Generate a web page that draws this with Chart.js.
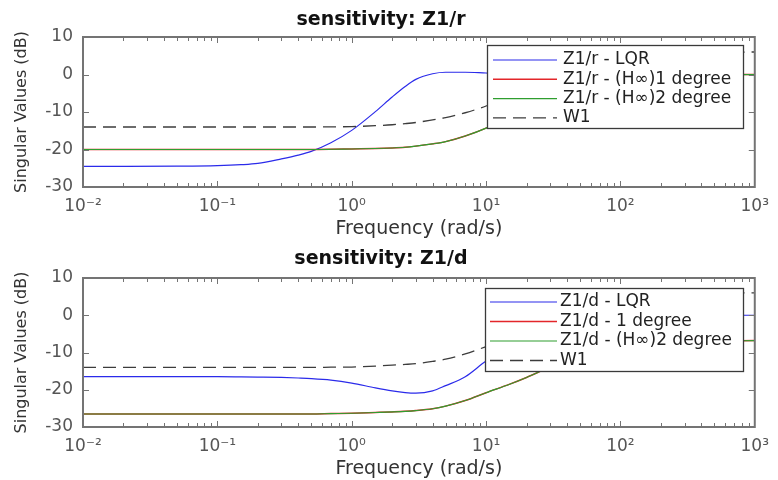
<!DOCTYPE html>
<html>
<head>
<meta charset="utf-8">
<script src="https://cdn.jsdelivr.net/npm/chart.js@4/dist/chart.umd.min.js"></script>
<style>
  html, body { margin: 0; padding: 0; background: #fff; }
  .plot { position: absolute; left: 0; width: 778px; height: 240px; }
</style>
</head>
<body>
<div class="plot" style="top:0"><canvas id="plotR" width="778" height="240"></canvas></div>
<div class="plot" style="top:240px"><canvas id="plotD" width="778" height="240"></canvas></div>
<script>
const freq = [0.01, 0.02, 0.05, 0.1, 0.15, 0.2, 0.3, 0.4, 0.5, 0.7, 1, 1.5, 2, 2.5, 3, 4, 5, 7, 10, 15, 20, 30, 50, 70, 100, 200, 500, 1000];

// sensitivity Z1/r (dB)
const lqrR  = [-24.5, -24.5, -24.45, -24.3, -24.05, -23.7, -22.5, -21.5, -20.5, -18.2, -14.9, -9.9, -6.0, -3.2, -1.3, 0.2, 0.6, 0.6, 0.4, 0.2, 0.1, 0.05, 0, 0, 0, 0, 0, 0];
const deg1R = [-20, -20, -20, -20, -20, -20, -20, -20, -20, -19.95, -19.85, -19.75, -19.6, -19.4, -19.1, -18.5, -17.9, -16.4, -14.3, -11.2, -8.9, -6.0, -3.3, -2.1, -1.2, -0.4, -0.1, 0];
const deg2R = [-20, -20, -20, -20, -20, -20, -20, -20, -20, -19.95, -19.85, -19.75, -19.6, -19.4, -19.1, -18.5, -17.9, -16.4, -14.3, -11.2, -8.9, -6.0, -3.3, -2.1, -1.2, -0.4, -0.1, 0];
const w1R   = [-14, -14, -14, -14, -14, -14, -14, -14, -14, -13.95, -13.9, -13.65, -13.4, -13.1, -12.8, -12.1, -11.5, -10.2, -8.4, -5.8, -3.8, -1.0, 2.0, 3.5, 4.6, 5.6, 5.95, 6.0];

// sensitivity Z1/d (dB)
const lqrD  = [-16.5, -16.5, -16.5, -16.5, -16.55, -16.6, -16.7, -16.85, -17.0, -17.4, -18.2, -19.5, -20.3, -20.75, -20.9, -20.3, -18.9, -16.5, -12.3, -8.5, -6.2, -3.6, -1.6, -0.9, -0.5, -0.1, 0, 0];
const deg1D = [-26.5, -26.5, -26.5, -26.5, -26.5, -26.5, -26.5, -26.5, -26.5, -26.4, -26.3, -26.1, -25.95, -25.8, -25.6, -25.1, -24.4, -22.9, -20.8, -18.5, -16.7, -13.9, -11.0, -9.6, -8.5, -7.3, -6.9, -6.8];
const deg2D = [-26.5, -26.5, -26.5, -26.5, -26.5, -26.5, -26.5, -26.5, -26.5, -26.4, -26.3, -26.1, -25.95, -25.8, -25.6, -25.1, -24.4, -22.9, -20.8, -18.5, -16.7, -13.9, -11.0, -9.6, -8.5, -7.3, -6.9, -6.8];
const w1D   = [-14, -14, -14, -14, -14, -14, -14, -14, -14, -13.95, -13.9, -13.65, -13.4, -13.2, -13.0, -12.4, -11.8, -10.4, -8.4, -5.8, -3.8, -1.0, 2.0, 3.5, 4.6, 5.6, 5.95, 6.0];

// axes
const xTicks = [0.01, 0.1, 1, 10, 100, 1000];
const xTickText = ['10⁻²', '10⁻¹', '10⁰', '10¹', '10²', '10³'];
const yTicks = [-30, -20, -10, 0, 10];

const FONT = '"DejaVu Sans", "Liberation Sans", sans-serif';
const AXIS_COLOR = '#747474';

function pts(values) {
    return freq.map((f, i) => ({ x: f, y: values[i] }));
}

function line(ctx, x0, y0, x1, y1) {
    ctx.beginPath();
    ctx.moveTo(x0, y0);
    ctx.lineTo(x1, y1);
    ctx.stroke();
}

// MATLAB-like box, inward ticks and boxed legend
const matlabAxes = {
    id: 'matlabAxes',
    afterDatasetsDraw(chart, args, opts) {
        const { ctx, chartArea: a, scales: { x, y } } = chart;
        ctx.save();
        ctx.strokeStyle = AXIS_COLOR;
        ctx.lineWidth = 1;
        for (let e = -2; e < 3; e++) {
            for (let m = 1; m < 10; m++) {
                const px = Math.round(x.getPixelForValue(m * Math.pow(10, e))) + 0.5;
                const len = m === 1 ? 6 : 4;
                line(ctx, px, a.bottom, px, a.bottom - len);
                line(ctx, px, a.top, px, a.top + len);
            }
        }
        yTicks.forEach(v => {
            const py = Math.round(y.getPixelForValue(v)) + 0.5;
            line(ctx, a.left, py, a.left + 6, py);
            line(ctx, a.right, py, a.right - 6, py);
        });
        ctx.lineWidth = 2;
        ctx.strokeRect(a.left, a.top, a.right - a.left, a.bottom - a.top);

        // legend
        const L = opts.legend;
        ctx.fillStyle = '#fff';
        ctx.fillRect(L.x, L.y, L.w, L.h);
        ctx.strokeStyle = '#3a3a3a';
        ctx.lineWidth = 1.3;
        ctx.strokeRect(L.x + 0.5, L.y + 0.5, L.w, L.h);
        ctx.font = '17px ' + FONT;
        ctx.textBaseline = 'middle';
        chart.data.datasets.forEach((ds, i) => {
            const yy = L.y + L.first + i * L.gap;
            ctx.strokeStyle = ds.borderColor;
            ctx.lineWidth = ds.borderWidth;
            ctx.setLineDash(ds.borderDash || []);
            line(ctx, L.x + L.s0, yy, L.x + L.s1, yy);
            ctx.setLineDash([]);
            ctx.fillStyle = '#222';
            ctx.fillText(ds.label, L.x + L.tx, yy);
        });
        ctx.restore();
    }
};

function makePlot(id, title, labels, series, titlePad, legend) {
    const colors = ['#2b2bea', '#e3262a', '#2f9e2f', '#3c3c3c'];
    const widths = [1.2, 1.5, 1.1, 1.3];
    const orders = [4, 3, 2, 1];
    return new Chart(id, {
        type: 'line',
        data: {
            datasets: series.map((s, i) => ({
                label: labels[i],
                data: pts(s),
                borderColor: colors[i],
                borderWidth: widths[i],
                borderDash: i === 3 ? [13, 7] : [],
                pointRadius: 0,
                cubicInterpolationMode: 'monotone',
                fill: false,
                order: orders[i]
            }))
        },
        options: {
            responsive: false,
            animation: false,
            layout: { padding: { left: 0, right: 16, top: 0, bottom: 0 } },
            plugins: {
                legend: { display: false },
                tooltip: { enabled: false },
                title: {
                    display: true,
                    text: title,
                    color: '#111',
                    font: { family: FONT, size: 19, weight: 'bold', lineHeight: '23px' },
                    padding: titlePad
                },
                matlabAxes: { legend: legend }
            },
            scales: {
                x: {
                    type: 'logarithmic',
                    min: 0.01,
                    max: 1000,
                    afterBuildTicks: s => { s.ticks = xTicks.map(v => ({ value: v })); },
                    afterFit: s => { s.height = 53; },
                    grid: { display: false, drawTicks: false },
                    border: { display: false },
                    ticks: {
                        autoSkip: false,
                        maxRotation: 0,
                        padding: 9,
                        color: '#555',
                        font: { family: FONT, size: 17 },
                        callback: v => xTickText[xTicks.findIndex(t => Math.abs(t - v) < t * 1e-6)] || ''
                    },
                    title: {
                        display: true,
                        text: 'Frequency (rad/s)',
                        color: '#333',
                        font: { family: FONT, size: 19 },
                        padding: { top: 0, bottom: 0 }
                    }
                },
                y: {
                    min: -30,
                    max: 10,
                    afterBuildTicks: s => { s.ticks = yTicks.map(v => ({ value: v })); },
                    afterFit: s => { s.width = 83; },
                    grid: { display: false, drawTicks: false },
                    border: { display: false },
                    ticks: {
                        padding: 10,
                        color: '#555',
                        font: { family: FONT, size: 17 }
                    },
                    title: {
                        display: true,
                        text: 'Singular Values (dB)',
                        color: '#333',
                        font: { family: FONT, size: 16 },
                        padding: { top: 12, bottom: 0 }
                    }
                }
            }
        },
        plugins: [matlabAxes]
    });
}

makePlot('plotR', 'sensitivity: Z1/r',
    ['Z1/r - LQR', 'Z1/r - (H∞)1 degree', 'Z1/r - (H∞)2 degree', 'W1'],
    [lqrR, deg1R, deg2R, w1R],
    { top: 9, bottom: 5 },
    { x: 487, y: 45, w: 256, h: 83, first: 15, gap: 19.3, s0: 6, s1: 70, tx: 76 });

makePlot('plotD', 'sensitivity: Z1/d',
    ['Z1/d - LQR', 'Z1/d - 1 degree', 'Z1/d - (H∞)2 degree', 'W1'],
    [lqrD, deg1D, deg2D, w1D],
    { top: 8, bottom: 7 },
    { x: 485, y: 48, w: 258, h: 83, first: 14, gap: 19.5, s0: 5, s1: 72, tx: 75 });
</script>
</body>
</html>
